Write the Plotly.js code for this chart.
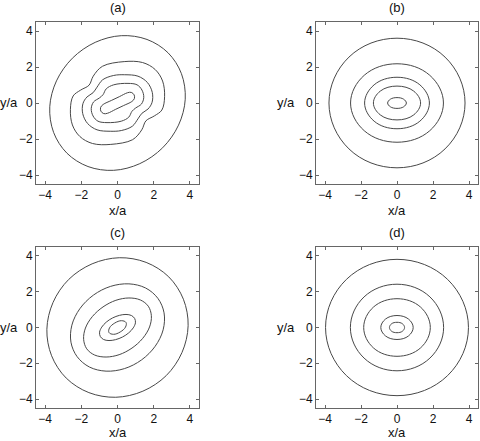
<!DOCTYPE html>
<html>
<head>
<meta charset="utf-8">
<script src="https://cdn.plot.ly/plotly-3.0.1.min.js"></script>
<style>
  html, body { margin: 0; padding: 0; background: #fff; }
  #chart { width: 480px; height: 441px; }
</style>
</head>
<body>
<div id="chart"></div>
<script>
// Contour outlines, in x/a, y/a units (each is a closed loop)
const panelLabels = ['(a)', '(b)', '(c)', '(d)'];
const tickValues = [-4, -2, 0, 2, 4];
const tickLabels = ['\u22124', '\u22122', '0', '2', '4'];

const contoursA = [
  [[2.79,2.79],[1.63,3.53],[0.21,3.74],[-1.23,3.37],[-2.49,2.49],[-3.37,1.23],[-3.74,-0.21],[-3.53,-1.63],
   [-2.79,-2.79],[-1.63,-3.53],[-0.21,-3.74],[1.23,-3.37],[2.49,-2.49],[3.37,-1.23],[3.74,0.21],[3.53,1.63]],
  [[0.37,2.3],[1.38,2.25],[2.08,1.86],[2.49,1.22],[2.6,0.35],[2.45,-0.39],[2.03,-0.72],[1.57,-0.99],[1.34,-1.49],[0.83,-2.04],
   [-0.37,-2.3],[-1.38,-2.25],[-2.08,-1.86],[-2.49,-1.22],[-2.6,-0.35],[-2.45,0.39],[-2.03,0.72],[-1.57,0.99],[-1.34,1.49],[-0.83,2.04]],
  [[0.4,1.57],[1.13,1.49],[1.65,1.14],[1.92,0.59],[1.91,0.04],[1.69,-0.33],[1.35,-0.57],[1.13,-0.88],[0.82,-1.29],[0.21,-1.53],
   [-0.4,-1.57],[-1.13,-1.49],[-1.65,-1.14],[-1.92,-0.59],[-1.91,-0.04],[-1.69,0.33],[-1.35,0.57],[-1.13,0.88],[-0.82,1.29],[-0.21,1.53]],
  [[0.58,1.09],[1.08,1.01],[1.35,0.72],[1.45,0.31],[1.32,-0.06],[1.0,-0.28],[0.8,-0.46],[0.62,-0.79],[0.21,-1.01],
   [-0.58,-1.09],[-1.08,-1.01],[-1.35,-0.72],[-1.45,-0.31],[-1.32,0.06],[-1.0,0.28],[-0.8,0.46],[-0.62,0.79],[-0.21,1.01]],
  [[0.55,0.57],[0.76,0.59],[0.92,0.45],[0.93,0.24],[0.79,0.08],[0.34,-0.14],[-0.1,-0.35],
   [-0.55,-0.57],[-0.76,-0.59],[-0.92,-0.45],[-0.93,-0.24],[-0.79,-0.08],[-0.34,0.14],[0.1,0.35]]
];

const contoursB = [
  [[3.78,0],[2.67,2.55],[0,3.6],[-2.67,2.55],[-3.78,0],[-2.67,-2.55],[0,-3.6],[2.67,-2.55]],
  [[2.58,0],[1.82,1.54],[0,2.18],[-1.82,1.54],[-2.58,0],[-1.82,-1.54],[0,-2.18],[1.82,-1.54]],
  [[1.8,0],[1.27,1.01],[0,1.43],[-1.27,1.01],[-1.8,0],[-1.27,-1.01],[0,-1.43],[1.27,-1.01]],
  [[1.31,0],[0.93,0.66],[0,0.94],[-0.93,0.66],[-1.31,0],[-0.93,-0.66],[0,-0.94],[0.93,-0.66]],
  [[0.52,0],[0.37,0.21],[0,0.3],[-0.37,0.21],[-0.52,0],[-0.37,-0.21],[0,-0.3],[0.37,-0.21]]
];

const contoursC = [
  [[2.83,2.83],[1.58,3.64],[0.1,3.9],[-1.4,3.56],[-2.69,2.69],[-3.56,1.4],[-3.9,-0.1],[-3.64,-1.58],
   [-2.83,-2.83],[-1.58,-3.64],[-0.1,-3.9],[1.4,-3.56],[2.69,-2.69],[3.56,-1.4],[3.9,0.1],[3.64,1.58]],
  [[2.23,1.63],[1.55,2.21],[0.63,2.44],[-0.38,2.3],[-1.33,1.81],[-2.08,1.05],[-2.52,0.13],[-2.57,-0.82],
   [-2.23,-1.63],[-1.55,-2.21],[-0.63,-2.44],[0.38,-2.3],[1.33,-1.81],[2.08,-1.05],[2.52,-0.13],[2.57,0.82]],
  [[1.7,1.19],[1.26,1.54],[0.63,1.65],[-0.09,1.52],[-0.8,1.15],[-1.39,0.61],[-1.77,-0.03],[-1.87,-0.66],
   [-1.7,-1.19],[-1.26,-1.54],[-0.63,-1.65],[0.09,-1.52],[0.8,-1.15],[1.39,-0.61],[1.77,0.03],[1.87,0.66]],
  [[0.95,0.5],[0.77,0.67],[0.47,0.73],[0.11,0.68],[-0.28,0.53],[-0.62,0.3],[-0.87,0.02],[-0.99,-0.26],
   [-0.95,-0.5],[-0.77,-0.67],[-0.47,-0.73],[-0.11,-0.68],[0.28,-0.53],[0.62,-0.3],[0.87,-0.02],[0.99,0.26]],
  [[0.47,0.28],[0.22,0.38],[-0.15,0.25],[-0.44,-0.02],[-0.47,-0.28],[-0.22,-0.38],[0.15,-0.25],[0.44,0.02]]
];

const contoursD = [
  [[3.97,0],[2.81,2.69],[0,3.81],[-2.81,2.69],[-3.97,0],[-2.81,-2.69],[0,-3.81],[2.81,-2.69]],
  [[2.59,0],[1.83,1.71],[0,2.42],[-1.83,1.71],[-2.59,0],[-1.83,-1.71],[0,-2.42],[1.83,-1.71]],
  [[1.85,0],[1.31,1.14],[0,1.61],[-1.31,1.14],[-1.85,0],[-1.31,-1.14],[0,-1.61],[1.31,-1.14]],
  [[0.9,0],[0.64,0.47],[0,0.67],[-0.64,0.47],[-0.9,0],[-0.64,-0.47],[0,-0.67],[0.64,-0.47]],
  [[0.42,0],[0.3,0.21],[0,0.29],[-0.3,0.21],[-0.42,0],[-0.3,-0.21],[0,-0.29],[0.3,-0.21]]
];

const panels = [contoursA, contoursB, contoursC, contoursD];

const FONT = 'Liberation Sans, Arial, Helvetica, sans-serif';
const LINE = '#484848';

// plot-area boxes in pixels [left, right, top, bottom]
const W = 480, H = 441;
const boxes = [[36, 199, 22, 184], [316, 478, 22, 184], [36, 199, 247, 408], [316, 478, 247, 408]];

const traces = [];
panels.forEach((contours, p) => {
  const sfx = p === 0 ? '' : String(p + 1);
  contours.forEach(pts => {
    const closed = pts.concat([pts[0]]);
    // sparse loops (8 points) need a bit more smoothing to look round
    const smooth = pts.length <= 8 ? 1.12 : 1;
    traces.push({
      type: 'scatter', mode: 'lines',
      x: closed.map(q => q[0]), y: closed.map(q => q[1]),
      xaxis: 'x' + sfx, yaxis: 'y' + sfx,
      line: { color: LINE, width: 1, shape: 'spline', smoothing: smooth },
      hoverinfo: 'skip', showlegend: false
    });
  });
});

const layout = {
  width: W, height: H,
  margin: { l: 0, r: 0, t: 0, b: 0 },
  paper_bgcolor: '#fff', plot_bgcolor: '#fff',
  font: { family: FONT, size: 12, color: '#111' },
  showlegend: false,
  annotations: []
};

boxes.forEach((b, p) => {
  const sfx = p === 0 ? '' : String(p + 1);
  const axBase = {
    range: [-4.5, 4.5], tickvals: tickValues, ticktext: tickLabels,
    ticks: 'inside', ticklen: 3, tickcolor: '#666', tickwidth: 1,
    showline: true, linecolor: '#666', linewidth: 1, mirror: 'ticks',
    showgrid: false, zeroline: false, fixedrange: true,
    tickfont: { family: FONT, size: 12, color: '#111' }
  };
  layout['xaxis' + sfx] = Object.assign({}, axBase, {
    domain: [b[0] / W, b[1] / W], anchor: 'y' + sfx
  });
  layout['yaxis' + sfx] = Object.assign({}, axBase, {
    domain: [1 - b[3] / H, 1 - b[2] / H], anchor: 'x' + sfx
  });
  const xr = (p === 0 ? 'x' : 'x' + sfx) + ' domain';
  const yr = (p === 0 ? 'y' : 'y' + sfx) + ' domain';
  const bottomRow = p >= 2;
  const leftCol = p % 2 === 0;
  layout.annotations.push(
    { text: panelLabels[p], xref: xr, yref: yr, x: 0.5, y: 1, xanchor: 'center', yanchor: 'bottom',
      yshift: 5, showarrow: false, font: { family: FONT, size: 13, color: '#111' } },
    { text: 'x/a', xref: xr, yref: yr, x: 0.5, y: 0, xanchor: 'center', yanchor: 'top',
      yshift: bottomRow ? -16 : -18, borderpad: 0,
      showarrow: false, font: { family: FONT, size: 13, color: '#111' } },
    // left column label sits against the page edge, keep it just inside
    { text: 'y/a', xref: xr, yref: yr, x: 0, y: 0.5, xanchor: 'right', yanchor: 'middle',
      xshift: leftCol ? -17 : -20, borderpad: 0,
      showarrow: false, font: { family: FONT, size: 13, color: '#111' } }
  );
});

Plotly.newPlot('chart', traces, layout, { staticPlot: true, displayModeBar: false });
</script>
</body>
</html>
